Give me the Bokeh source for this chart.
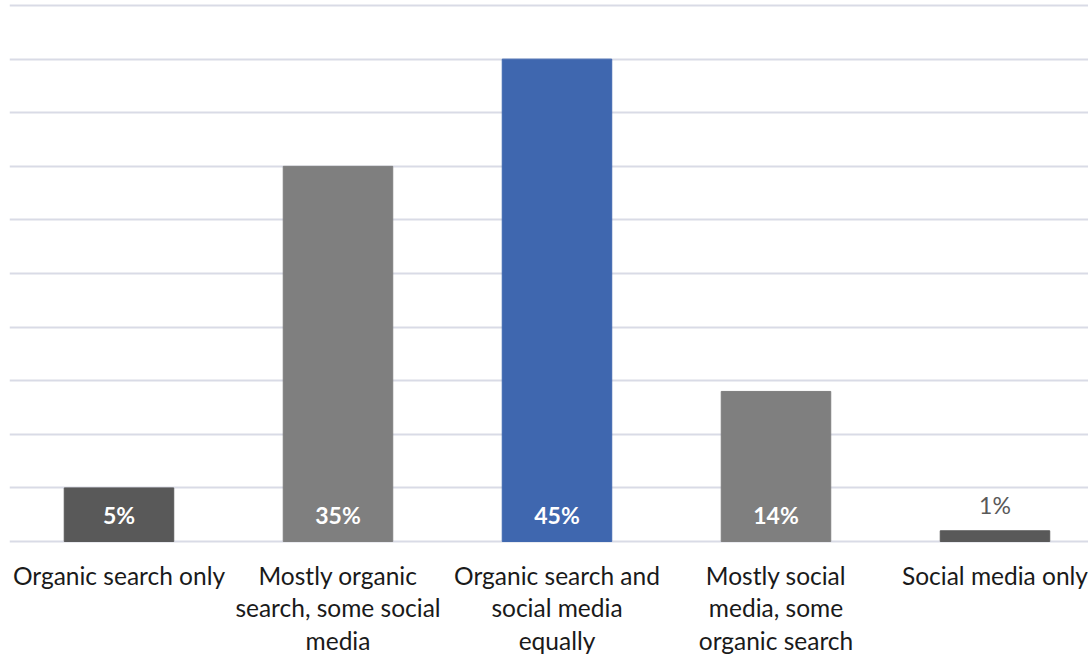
from bokeh.plotting import figure
from bokeh.models import Range1d, FixedTicker, ColumnDataSource
from bokeh.core.properties import value
from bokeh.embed import file_html
from bokeh.resources import INLINE

categories = ["Organic search only", "Mostly organic\nsearch, some social\nmedia",
              "Organic search and\nsocial media\nequally", "Mostly social\nmedia, some\norganic search",
              "Social media only"]
values = [5, 35, 45, 14, 1]
labels = ["5%", "35%", "45%", "14%", "1%"]
colors = ["#595959", "#7f7f7f", "#3f67af", "#7f7f7f", "#595959"]
inside = [True, True, True, True, False]

FONT = "Lato"

p = figure(width=1088, height=654, output_backend="svg", toolbar_location=None,
           x_range=Range1d(-0.5, 4.427), y_range=Range1d(-10.54, 50.47),
           min_border=0, min_border_left=9, min_border_right=0, min_border_top=0, min_border_bottom=0)
p.outline_line_color = None
p.xaxis.visible = False
p.yaxis.visible = False
p.xgrid.visible = False
p.ygrid.ticker = FixedTicker(ticks=list(range(0, 51, 5)))
p.ygrid.grid_line_color = "#d9dbe6"
p.ygrid.grid_line_width = 2
p.background_fill_color = "white"
p.border_fill_color = "white"

xs = list(range(len(categories)))
src = ColumnDataSource(dict(x=xs, top=values, color=colors))
p.vbar(x="x", top="top", bottom=0, width=0.5, color="color", source=src)

# value labels
ix = [x for x, i in zip(xs, inside) if i]
il = [l for l, i in zip(labels, inside) if i]
p.text(x=ix, y=[2.45] * len(ix), text=il, text_color="white", text_font=value(FONT),
       text_font_style="bold", text_font_size="23px", text_align="center", text_baseline="middle")
ox = [x for x, i in zip(xs, inside) if not i]
ov = [v for v, i in zip(values, inside) if not i]
ol = [l for l, i in zip(labels, inside) if not i]
p.text(x=ox, y=[v + 2.4 for v in ov], text=ol, text_color="#595959", text_font=value(FONT),
       text_font_size="23px", text_align="center", text_baseline="middle")

# category labels
lx, ly, lt = [], [], []
for x, c in zip(xs, categories):
    for k, line in enumerate(c.split("\n")):
        lx.append(x)
        ly.append(-3.15 - 3.03 * k)
        lt.append(line)
p.text(x=lx, y=ly, text=lt, text_color="#1a1a1a", text_font=value(FONT),
       text_font_size="24.5px", text_align="center", text_baseline="middle")

open("out.html", "w").write(file_html(p, INLINE))
